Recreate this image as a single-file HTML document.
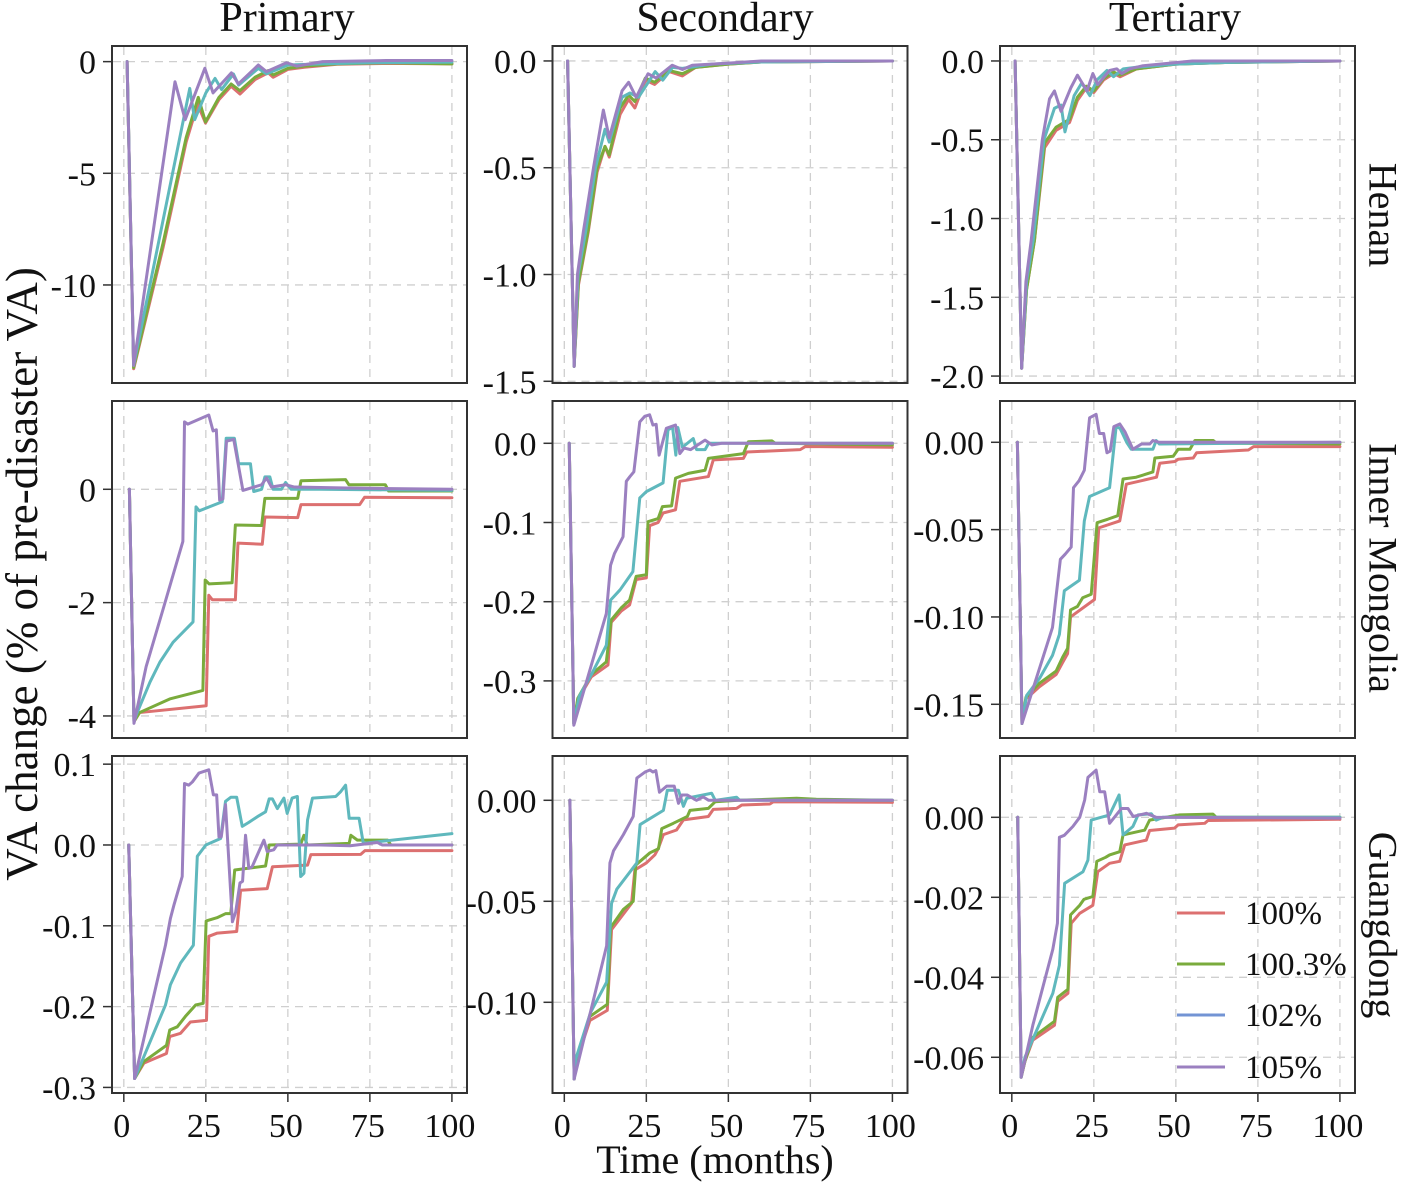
<!DOCTYPE html>
<html><head><meta charset="utf-8">
<style>
html,body{margin:0;padding:0;background:#fff;}
svg{display:block;font-family:"Liberation Serif",serif;}
</style></head>
<body>
<svg id="chart" width="1404" height="1185" viewBox="0 0 1404 1185" xmlns="http://www.w3.org/2000/svg">
<rect x="0" y="0" width="1404" height="1185" fill="#fff"/>
<g id="panels"></g>
<text x="287" y="31" font-size="42" text-anchor="middle" fill="#111">Primary</text>
<text x="725" y="31" font-size="42" text-anchor="middle" fill="#111">Secondary</text>
<text x="1175" y="31" font-size="42" text-anchor="middle" fill="#111">Tertiary</text>
<text transform="translate(1383,215) rotate(90)" font-size="40" text-anchor="middle" dominant-baseline="central" fill="#111">Henan</text>
<text transform="translate(1383,568) rotate(90)" font-size="40" text-anchor="middle" dominant-baseline="central" fill="#111">Inner Mongolia</text>
<text transform="translate(1383,925) rotate(90)" font-size="40" text-anchor="middle" dominant-baseline="central" fill="#111">Guangdong</text>
<text transform="translate(22,574) rotate(-90)" font-size="45" text-anchor="middle" dominant-baseline="central" fill="#111">VA change (% of pre-disaster VA)</text>
<text x="715" y="1173" font-size="40" text-anchor="middle" fill="#111">Time (months)</text>
<g id="legend"></g>
</svg>
<script>
// ---- data ----
const seriesNames = ["100%","100.3%","102%","105%"];
const lineColors = ["#dc7070","#7aab3c","#5fb8bd","#9b80c0"];
const legendColors = ["#dc7070","#7aab3c","#7394d4","#9b80c0"];
const xTicks = [0,25,50,75,100];

// Henan primary
const henanPrimary100 = [[1,0],[3,-13.75],[12,-8.3],[19,-3.6],[22.5,-1.9],[24.9,-2.75],[29,-1.7],[32.7,-1.1],[35.4,-1.45],[40,-0.8],[44,-0.5],[45.5,-0.7],[50,-0.35],[55,-0.25],[65,-0.12],[80,-0.08],[100,-0.1]];
const henanPrimary1003 = [[1,0],[3,-13.7],[12,-8.1],[19,-3.4],[22.7,-1.6],[24.9,-2.7],[29,-1.6],[32.7,-1.0],[35.4,-1.3],[40,-0.7],[44,-0.4],[45.5,-0.6],[50,-0.3],[55,-0.2],[65,-0.1],[80,-0.05],[100,-0.1]];
const henanPrimary102 = [[1,0],[3,-13.6],[20.1,-1.2],[21.6,-2.6],[25,-1.4],[27.8,-0.75],[29.8,-1.25],[33.4,-0.55],[35,-1.05],[41,-0.3],[43.5,-0.55],[50,-0.15],[60,-0.1],[75,-0.05],[100,-0.02]];
const henanPrimary105 = [[1,0],[3,-13.6],[15.6,-0.9],[18.7,-2.6],[24.7,-0.3],[27.2,-1.4],[32.8,-0.5],[34.9,-1.0],[41,-0.15],[43.5,-0.45],[49.6,-0.05],[52.7,-0.2],[60.6,0],[80,0.05],[100,0.05]];
// Henan secondary
const henanSecondary100 = [[1,0],[3,-1.43],[4.3,-1.05],[7.3,-0.8],[10,-0.52],[12.4,-0.40],[13.7,-0.45],[17,-0.25],[19.6,-0.18],[21.5,-0.22],[24.7,-0.09],[27.5,-0.11],[32,-0.05],[36,-0.07],[40,-0.03],[50,-0.015],[60,-0.005],[100,0]];
const henanSecondary1003 = [[1,0],[3,-1.43],[4.3,-1.04],[7.3,-0.79],[10,-0.5],[12.4,-0.40],[13.7,-0.44],[17,-0.22],[19.6,-0.16],[21.5,-0.19],[24.7,-0.08],[27.5,-0.10],[32,-0.045],[36,-0.06],[40,-0.03],[50,-0.015],[60,-0.005],[100,0]];
const henanSecondary102 = [[1,0],[3,-1.43],[4.2,-1.0],[6.5,-0.8],[9.5,-0.5],[12.4,-0.32],[13.7,-0.38],[17.6,-0.17],[20,-0.15],[22.6,-0.17],[27.7,-0.05],[30,-0.09],[33,-0.03],[36,-0.035],[45,-0.015],[60,-0.005],[100,0]];
const henanSecondary105 = [[1,0],[3,-1.43],[4,-1.0],[5.8,-0.8],[8.9,-0.5],[11.9,-0.23],[13.7,-0.36],[17.6,-0.14],[19.6,-0.10],[21.9,-0.17],[25.5,-0.06],[28,-0.08],[32.9,-0.02],[36,-0.04],[39,-0.02],[50,-0.01],[60,0],[100,0]];
// Henan tertiary
const henanTertiary100 = [[1,0],[3,-1.95],[4.5,-1.45],[6.9,-1.14],[10,-0.55],[13.5,-0.44],[16,-0.41],[17.6,-0.39],[20,-0.25],[22.7,-0.17],[25,-0.2],[28,-0.12],[31,-0.08],[33,-0.1],[38,-0.05],[50,-0.02],[65,-0.01],[100,0]];
const henanTertiary1003 = [[1,0],[3,-1.95],[4.5,-1.45],[6.9,-1.14],[10,-0.52],[13.5,-0.42],[17.6,-0.37],[20,-0.23],[22.7,-0.16],[25,-0.19],[28,-0.11],[31,-0.07],[33,-0.09],[38,-0.05],[50,-0.02],[65,-0.01],[100,0]];
const henanTertiary102 = [[1,0],[3,-1.95],[4.5,-1.4],[6.5,-1.14],[9.8,-0.5],[13,-0.3],[15,-0.28],[16.2,-0.45],[19,-0.22],[21.3,-0.14],[23.8,-0.22],[26,-0.12],[29,-0.06],[31,-0.1],[34,-0.05],[38,-0.04],[50,-0.02],[65,-0.01],[100,0]];
const henanTertiary105 = [[1,0],[3,-1.95],[4.3,-1.4],[5.9,-1.14],[9.3,-0.5],[11.5,-0.24],[13,-0.19],[15,-0.32],[18,-0.17],[20,-0.09],[22.9,-0.19],[24.7,-0.08],[26.2,-0.15],[29.8,-0.06],[32,-0.05],[33.5,-0.08],[36,-0.05],[40,-0.03],[55,0],[100,0]];
// Inner Mongolia primary
const mongoliaPrimary100 = [[1.7,0],[3.1,-4.1],[4.8,-3.94],[25.1,-3.82],[25.9,-1.87],[27,-1.95],[34,-1.95],[34.8,-0.95],[42.2,-0.97],[43,-0.49],[53,-0.5],[54,-0.27],[71.9,-0.27],[73.4,-0.14],[100,-0.15]];
const mongoliaPrimary1003 = [[1.7,0],[3.1,-4.1],[4.8,-3.94],[14,-3.7],[24.1,-3.55],[24.8,-1.6],[26,-1.67],[33,-1.65],[34,-0.63],[42,-0.64],[43,-0.16],[53,-0.16],[54,0.15],[67.6,0.17],[68.6,0.08],[79.7,0.08],[80.7,-0.03],[100,-0.03]];
const mongoliaPrimary102 = [[1.7,0],[3.1,-4.1],[4,-3.95],[8,-3.4],[11,-3.05],[15,-2.7],[21.1,-2.34],[22,-0.31],[23,-0.38],[30,-0.22],[31.2,0.9],[33.7,0.9],[35,0.45],[38.6,0.45],[39.6,-0.04],[42,0],[43,0.22],[44.5,0.22],[45.5,0],[48,0],[49.3,0.12],[51,0],[60,0],[100,-0.02]];
const mongoliaPrimary105 = [[1.7,0],[3.1,-4.13],[6.8,-3.13],[11.9,-2.13],[18,-0.92],[18.5,1.19],[19.5,1.15],[25.9,1.31],[27.2,1.03],[28.2,1.05],[29.2,-0.19],[30.2,-0.17],[31.3,0.85],[33.5,0.88],[36.3,-0.02],[42,0.08],[43.5,0.2],[45,0.04],[49.3,0.08],[52,0.04],[70,0.02],[100,0]];
// Inner Mongolia secondary
const mongoliaSecondary100 = [[1.5,0],[2.9,-0.354],[4.1,-0.324],[8.2,-0.295],[13.3,-0.28],[14.3,-0.226],[17.3,-0.212],[19.9,-0.204],[21.9,-0.172],[25,-0.17],[26,-0.104],[28.6,-0.1],[30.1,-0.088],[33.9,-0.084],[35.2,-0.048],[43.9,-0.042],[45.4,-0.021],[54.6,-0.019],[55.6,-0.011],[71.9,-0.008],[73.5,-0.004],[100,-0.005]];
const mongoliaSecondary1003 = [[1.5,0],[2.9,-0.354],[4.1,-0.322],[8.2,-0.292],[12.8,-0.276],[14.3,-0.223],[17.3,-0.208],[19.9,-0.198],[21.9,-0.168],[25,-0.166],[25.5,-0.099],[28.6,-0.095],[29.9,-0.08],[32.7,-0.079],[33.9,-0.044],[37.8,-0.038],[42.9,-0.034],[43.9,-0.019],[54.6,-0.013],[56.1,0.002],[63.3,0.003],[64.3,0],[100,-0.002]];
const mongoliaSecondary102 = [[1.5,0],[2.9,-0.354],[4.5,-0.32],[8.5,-0.29],[12.8,-0.255],[14.1,-0.198],[17,-0.185],[20.9,-0.162],[23,-0.069],[25,-0.061],[30.1,-0.05],[31.6,0.017],[33,0.02],[34,-0.015],[34.6,0.02],[36,-0.005],[39.3,0.006],[40.3,-0.008],[42.9,-0.008],[44,0],[100,0]];
const mongoliaSecondary105 = [[1.5,0],[2.9,-0.356],[12.8,-0.215],[14.1,-0.154],[15.3,-0.139],[17.9,-0.118],[18.9,-0.048],[20,-0.042],[21.2,-0.036],[23,0.027],[24.5,0.034],[26,0.036],[27,0.023],[28,0.024],[28.9,-0.015],[31.1,0.019],[33.9,0.023],[35.2,-0.013],[36.5,-0.006],[38.5,-0.008],[42.9,0.004],[45,-0.002],[48,0],[100,0]];
// Inner Mongolia tertiary
const mongoliaTertiary100 = [[1.7,0],[3.1,-0.161],[4.3,-0.147],[8.4,-0.14],[13.5,-0.133],[15.5,-0.126],[17,-0.121],[17.9,-0.1],[25.2,-0.09],[26.5,-0.049],[32.9,-0.045],[34.9,-0.024],[44.1,-0.02],[45.1,-0.012],[49.7,-0.011],[50.7,-0.0097],[55.3,-0.009],[56.3,-0.006],[72.1,-0.0044],[73.7,-0.0025],[100,-0.0025]];
const mongoliaTertiary1003 = [[1.7,0],[3.1,-0.161],[4.3,-0.146],[8.4,-0.138],[13.5,-0.131],[15.5,-0.123],[17,-0.118],[17.9,-0.096],[20,-0.094],[21.6,-0.089],[24.2,-0.087],[26,-0.046],[29.3,-0.044],[32.3,-0.042],[33.9,-0.021],[37.9,-0.02],[43,-0.017],[43.6,-0.009],[49.2,-0.008],[50.7,-0.004],[54.3,-0.004],[55.8,0.001],[61.4,0.001],[62.4,-0.0005],[100,-0.001]];
const mongoliaTertiary102 = [[1.7,0],[3.1,-0.161],[4.5,-0.145],[8.5,-0.135],[12.4,-0.122],[14.5,-0.11],[16,-0.085],[20.6,-0.079],[22.1,-0.045],[23.7,-0.031],[29.8,-0.026],[31.8,0.009],[33,0.008],[35,0.0],[36.4,-0.004],[43,-0.004],[44,0.001],[45,-0.001],[100,0]];
const mongoliaTertiary105 = [[1.7,0],[3.1,-0.161],[12.4,-0.106],[14.8,-0.067],[16.3,-0.064],[18.1,-0.06],[18.8,-0.026],[20.5,-0.022],[22.1,-0.016],[23.7,0.014],[25.7,0.016],[26.7,0.005],[28,0.005],[29,-0.006],[30,-0.005],[31.1,0.009],[32.9,0.0105],[34.5,0.006],[36.9,-0.004],[39.5,-0.001],[42,-0.001],[43,0.001],[45,0],[100,0]];
// Guangdong primary
const guangdongPrimary100 = [[1.5,0],[3.3,-0.289],[6.1,-0.27],[13,-0.258],[14,-0.237],[17.3,-0.233],[20.3,-0.219],[25.2,-0.217],[25.9,-0.113],[28.5,-0.109],[34.4,-0.107],[35.6,-0.056],[43.7,-0.054],[45.3,-0.027],[56,-0.025],[57,-0.012],[72.2,-0.0116],[73.5,-0.007],[100,-0.007]];
const guangdongPrimary1003 = [[1.5,0],[3.3,-0.289],[6.1,-0.268],[13,-0.248],[14,-0.229],[16.3,-0.225],[18.8,-0.212],[21.9,-0.198],[24.2,-0.196],[25.1,-0.094],[28.4,-0.09],[31,-0.085],[32.6,-0.085],[33.8,-0.031],[37.6,-0.029],[43.2,-0.026],[44.3,0],[53.9,0.001],[54.9,0.012],[55.9,0],[68.7,0.002],[69.2,0.012],[71.2,0.006],[80.4,0.006],[81.4,0],[100,0]];
const guangdongPrimary102 = [[1.5,0],[3.3,-0.289],[6.1,-0.262],[12.7,-0.198],[14.2,-0.173],[17.3,-0.146],[21.2,-0.124],[22.4,-0.014],[25,0],[29.5,0.008],[31,0.054],[32.6,0.059],[34.4,0.059],[36.1,0.023],[38.1,0.028],[40.7,0.035],[43.2,0.041],[44.3,0.057],[45.3,0.057],[46.8,0.045],[48.8,0.058],[49.8,0.039],[51.3,0.058],[52.9,0.06],[53.9,-0.039],[54.9,-0.035],[56,0.031],[57.5,0.058],[64.6,0.06],[66.1,0.066],[67.6,0.074],[68.7,0.033],[71.7,0.033],[73,0.002],[100,0.014]];
const guangdongPrimary105 = [[1.5,0],[3.3,-0.289],[12.7,-0.124],[14.2,-0.091],[15.3,-0.074],[17.8,-0.039],[18.5,0.076],[19.8,0.074],[20.9,0.078],[22.9,0.089],[25.9,0.093],[27.3,0.062],[28.3,0.062],[29,0.01],[29.7,0.01],[31,0.05],[33.1,-0.095],[34.1,-0.083],[35.4,-0.047],[36.2,-0.045],[37.1,0.012],[38.1,-0.029],[39.1,-0.027],[42.7,0.006],[43.7,-0.008],[45.7,-0.006],[46.7,0],[60,0],[69,-0.001],[75,0.002],[77.3,0.003],[78.8,0],[100,0]];
// Guangdong secondary
const guangdongSecondary100 = [[1.7,0],[3,-0.138],[3.5,-0.13],[7.8,-0.109],[13.1,-0.104],[14.4,-0.064],[20.5,-0.051],[21.5,-0.0345],[25,-0.031],[27.6,-0.027],[28.6,-0.024],[30.2,-0.017],[34.2,-0.0147],[36.3,-0.0097],[43.9,-0.008],[45.4,-0.0045],[52.5,-0.004],[54.1,-0.0023],[62.7,-0.0018],[63.7,-0.0007],[100,-0.001]];
const guangdongSecondary1003 = [[1.7,0],[3,-0.138],[3.5,-0.13],[7.8,-0.107],[13.1,-0.101],[14.1,-0.063],[18,-0.054],[21,-0.05],[21.8,-0.032],[26.1,-0.026],[28.7,-0.024],[29.7,-0.014],[33.2,-0.0114],[37.5,-0.008],[38.3,-0.005],[43.9,-0.004],[46,-0.0007],[53,0],[70.8,0.001],[76.8,0.0005],[100,0]];
const guangdongSecondary102 = [[1.7,0],[3,-0.138],[3.5,-0.128],[8,-0.105],[12.9,-0.09],[14.4,-0.051],[16,-0.044],[22.1,-0.031],[23.1,-0.012],[30.2,-0.005],[31.4,0.005],[34.8,0.005],[36.3,-0.003],[37.3,0.001],[44.9,0.0035],[46,0],[52.5,0.0015],[53.5,0],[100,0]];
const guangdongSecondary105 = [[1.7,0],[3,-0.138],[12.9,-0.072],[13.9,-0.031],[15,-0.025],[18,-0.017],[21,-0.008],[22.1,0.011],[24.6,0.014],[26.1,0.015],[27,0.014],[27.9,0.0147],[29,0.004],[31.2,0.007],[33.5,0.007],[34.8,-0.0015],[35.8,0.0026],[37.5,0.0026],[40.3,0],[42.3,0.0017],[44,0],[100,0]];
// Guangdong tertiary
const guangdongTertiary100 = [[1.8,0],[2.85,-0.065],[4,-0.061],[6.4,-0.0557],[13,-0.052],[14,-0.046],[17.1,-0.044],[18.1,-0.0265],[20.7,-0.024],[24.7,-0.022],[26.2,-0.0136],[29.8,-0.0115],[32.9,-0.011],[34.4,-0.0069],[41,-0.0057],[42,-0.0033],[49.6,-0.0027],[50.7,-0.0019],[58.8,-0.0015],[59.8,-0.0008],[100,-0.0005]];
const guangdongTertiary1003 = [[1.8,0],[2.85,-0.065],[4,-0.061],[6.4,-0.055],[13,-0.051],[14,-0.045],[17.1,-0.043],[17.9,-0.0244],[20.7,-0.022],[22,-0.0205],[24.7,-0.0198],[25.9,-0.011],[28.6,-0.010],[29.8,-0.0094],[32.9,-0.0086],[33.9,-0.0044],[40.5,-0.0032],[42,-0.0007],[51.2,0.0006],[61.3,0.0008],[62.3,0],[100,0]];
const guangdongTertiary102 = [[1.8,0],[2.85,-0.065],[4,-0.06],[12.5,-0.044],[14.5,-0.037],[16.1,-0.0165],[21.7,-0.0136],[23.2,-0.0107],[24.2,-0.0007],[29.8,0.0006],[32.7,0.0056],[33.9,-0.0044],[36.9,-0.0023],[38.5,0.0006],[42.5,0.0009],[44,-0.0007],[46,0],[100,0]];
const guangdongTertiary105 = [[1.8,0],[2.85,-0.065],[6.4,-0.052],[12.5,-0.033],[13.9,-0.0265],[14.5,-0.005],[16,-0.0045],[18.6,-0.0023],[20.7,0],[22.2,0.0043],[23.2,0.010],[25.7,0.0118],[26.8,0.0064],[28.3,0.0064],[29.8,-0.0015],[33.4,0.0022],[35.4,0.0022],[37,0.0002],[41,0.001],[44,0],[100,-0.0002]];

// y ticks per panel
const yTicksHenanPrimary = [0,-5,-10];
const yTickLabelsHenanPrimary = ["0","-5","-10"];
const yTicksHenanSecondary = [0,-0.5,-1,-1.5];
const yTickLabelsHenanSecondary = ["0.0","-0.5","-1.0","-1.5"];
const yTicksHenanTertiary = [0,-0.5,-1,-1.5,-2];
const yTickLabelsHenanTertiary = ["0.0","-0.5","-1.0","-1.5","-2.0"];
const yTicksMongoliaPrimary = [0,-2,-4];
const yTickLabelsMongoliaPrimary = ["0","-2","-4"];
const yTicksMongoliaSecondary = [0,-0.1,-0.2,-0.3];
const yTickLabelsMongoliaSecondary = ["0.0","-0.1","-0.2","-0.3"];
const yTicksMongoliaTertiary = [0,-0.05,-0.1,-0.15];
const yTickLabelsMongoliaTertiary = ["0.00","-0.05","-0.10","-0.15"];
const yTicksGuangdongPrimary = [0.1,0,-0.1,-0.2,-0.3];
const yTickLabelsGuangdongPrimary = ["0.1","0.0","-0.1","-0.2","-0.3"];
const yTicksGuangdongSecondary = [0,-0.05,-0.1];
const yTickLabelsGuangdongSecondary = ["0.00","-0.05","-0.10"];
const yTicksGuangdongTertiary = [0,-0.02,-0.04,-0.06];
const yTickLabelsGuangdongTertiary = ["0.00","-0.02","-0.04","-0.06"];

// y domains [low, high]
const yDomainHenanPrimary = [-14.39,0.70];
const yDomainHenanSecondary = [-1.508,0.070];
const yDomainHenanTertiary = [-2.044,0.095];
const yDomainMongoliaPrimary = [-4.389,1.558];
const yDomainMongoliaSecondary = [-0.3721,0.0534];
const yDomainMongoliaTertiary = [-0.1693,0.02364];
const yDomainGuangdongPrimary = [-0.3069,0.1101];
const yDomainGuangdongSecondary = [-0.1449,0.02193];
const yDomainGuangdongTertiary = [-0.06893,0.01533];
const xDomain = [-3.6,104.6];

// ---- layout ----
const NS = "http://www.w3.org/2000/svg";
const colLeft = [112,552.5,1000];
const rowTop = [46,401,756];
const PW = 355, PH = 337;

const panels = [
  {r:0,c:0,key:"henan-primary",series:[henanPrimary100,henanPrimary1003,henanPrimary102,henanPrimary105],dom:yDomainHenanPrimary,ticks:yTicksHenanPrimary,labels:yTickLabelsHenanPrimary},
  {r:0,c:1,key:"henan-secondary",series:[henanSecondary100,henanSecondary1003,henanSecondary102,henanSecondary105],dom:yDomainHenanSecondary,ticks:yTicksHenanSecondary,labels:yTickLabelsHenanSecondary},
  {r:0,c:2,key:"henan-tertiary",series:[henanTertiary100,henanTertiary1003,henanTertiary102,henanTertiary105],dom:yDomainHenanTertiary,ticks:yTicksHenanTertiary,labels:yTickLabelsHenanTertiary},
  {r:1,c:0,key:"inner-mongolia-primary",series:[mongoliaPrimary100,mongoliaPrimary1003,mongoliaPrimary102,mongoliaPrimary105],dom:yDomainMongoliaPrimary,ticks:yTicksMongoliaPrimary,labels:yTickLabelsMongoliaPrimary},
  {r:1,c:1,key:"inner-mongolia-secondary",series:[mongoliaSecondary100,mongoliaSecondary1003,mongoliaSecondary102,mongoliaSecondary105],dom:yDomainMongoliaSecondary,ticks:yTicksMongoliaSecondary,labels:yTickLabelsMongoliaSecondary},
  {r:1,c:2,key:"inner-mongolia-tertiary",series:[mongoliaTertiary100,mongoliaTertiary1003,mongoliaTertiary102,mongoliaTertiary105],dom:yDomainMongoliaTertiary,ticks:yTicksMongoliaTertiary,labels:yTickLabelsMongoliaTertiary},
  {r:2,c:0,key:"guangdong-primary",series:[guangdongPrimary100,guangdongPrimary1003,guangdongPrimary102,guangdongPrimary105],dom:yDomainGuangdongPrimary,ticks:yTicksGuangdongPrimary,labels:yTickLabelsGuangdongPrimary},
  {r:2,c:1,key:"guangdong-secondary",series:[guangdongSecondary100,guangdongSecondary1003,guangdongSecondary102,guangdongSecondary105],dom:yDomainGuangdongSecondary,ticks:yTicksGuangdongSecondary,labels:yTickLabelsGuangdongSecondary},
  {r:2,c:2,key:"guangdong-tertiary",series:[guangdongTertiary100,guangdongTertiary1003,guangdongTertiary102,guangdongTertiary105],dom:yDomainGuangdongTertiary,ticks:yTicksGuangdongTertiary,labels:yTickLabelsGuangdongTertiary}
];

function mk(tag, attrs, parent){
  const el = document.createElementNS(NS, tag);
  for (const k in attrs) el.setAttribute(k, attrs[k]);
  parent.appendChild(el);
  return el;
}

const root = document.getElementById("panels");
const defs = mk("defs", {}, root);

panels.forEach(function(p){
  const L = colLeft[p.c], T = rowTop[p.r];
  const xs = function(v){ return L + (v - xDomain[0]) / (xDomain[1] - xDomain[0]) * PW; };
  const ys = function(v){ return T + PH - (v - p.dom[0]) / (p.dom[1] - p.dom[0]) * PH; };

  const g = mk("g", {}, root);
  
  

  const cp = mk("clipPath", {id:"clip-" + p.key}, defs);
  mk("rect", {x:L, y:T, width:PW, height:PH}, cp);

  xTicks.forEach(function(t){
    const gl = mk("line", {x1:xs(t), x2:xs(t), y1:T+1, y2:T+PH-1, stroke:"#cfcfcf", "stroke-width":1.3, "stroke-dasharray":"8,6"}, g);
    
    
  });
  p.ticks.forEach(function(t, i){
    const y = ys(t);
    const gl = mk("line", {x1:L+1, x2:L+PW-1, y1:y, y2:y, stroke:"#cfcfcf", "stroke-width":1.3, "stroke-dasharray":"8,6"}, g);
    
    
    const tk = mk("line", {x1:L-9, x2:L, y1:y, y2:y, stroke:"#333", "stroke-width":1.5}, g);
    
    
    const tx = mk("text", {x:L-16, y:y+12, "font-size":34, "text-anchor":"end", fill:"#111"}, g);
    
    
    tx.textContent = p.labels[i];
  });

  const lg = mk("g", {"clip-path":"url(#clip-" + p.key + ")"}, g);
  
  
  p.series.forEach(function(s, si){
    const d = s.map(function(pt, i){ return (i ? "L" : "M") + xs(pt[0]).toFixed(2) + "," + ys(pt[1]).toFixed(2); }).join("");
    const path = mk("path", {d:d, fill:"none", stroke:lineColors[si], "stroke-width":3, "stroke-linejoin":"round", "stroke-linecap":"round"}, lg);
    
    
  });

  const fr = mk("rect", {x:L, y:T, width:PW, height:PH, fill:"none", stroke:"#333", "stroke-width":2}, g);
  
  

  if (p.r === 2) {
    xTicks.forEach(function(t){
      const tk = mk("line", {x1:xs(t), x2:xs(t), y1:T+PH, y2:T+PH+9, stroke:"#333", "stroke-width":1.5}, g);
      
      
      const tx = mk("text", {x:xs(t)-2, y:1137, "font-size":34, "text-anchor":"middle", fill:"#111"}, g);
      
      
      tx.textContent = String(t);
    });
  }
});

const leg = document.getElementById("legend");
const legendY = [913,964,1015,1067];
seriesNames.forEach(function(n, i){
  const eg = mk("g", {}, leg);
  
  
  mk("line", {x1:1177, x2:1225, y1:legendY[i], y2:legendY[i], stroke:legendColors[i], "stroke-width":3}, eg);
  const t = mk("text", {x:1245, y:legendY[i]+11, "font-size":33, fill:"#111"}, eg);
  t.textContent = n;
});
</script>
</body></html>
